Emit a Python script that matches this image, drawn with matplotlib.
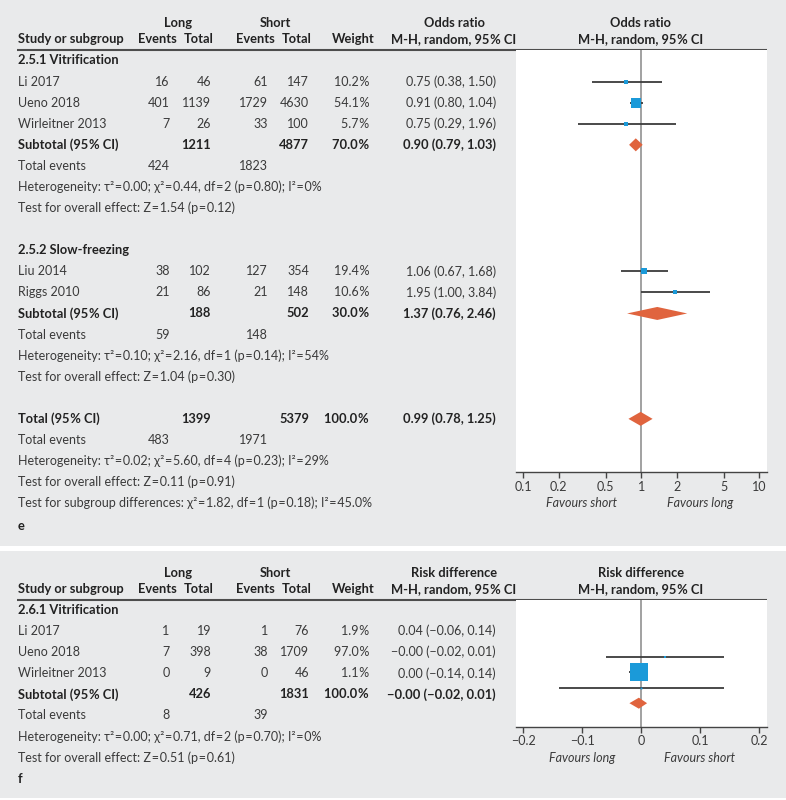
import matplotlib
matplotlib.use("Agg")
import matplotlib.pyplot as plt
from matplotlib.patches import Rectangle

plt.rcParams["font.family"] = ["Lato", "DejaVu Sans"]
plt.rcParams["font.size"] = 9
BOLD_SIZE = 9.3

# ---- panel e data (odds ratio) ----
e_groups = ["2.5.1 Vitrification", "2.5.2 Slow-freezing"]
e_studies = [["Li 2017", "Ueno 2018", "Wirleitner 2013"], ["Liu 2014", "Riggs 2010"]]
e_long_ev = [[16, 401, 7], [38, 21]]
e_long_tot = [[46, 1139, 26], [102, 86]]
e_short_ev = [[61, 1729, 33], [127, 21]]
e_short_tot = [[147, 4630, 100], [354, 148]]
e_weight = [[10.2, 54.1, 5.7], [19.4, 10.6]]
e_or = [[0.75, 0.91, 0.75], [1.06, 1.95]]
e_lo = [[0.38, 0.80, 0.29], [0.67, 1.00]]
e_hi = [[1.50, 1.04, 1.96], [1.68, 3.84]]
e_sub_tot = [(1211, 4877, 70.0), (188, 502, 30.0)]
e_sub_or = [(0.90, 0.79, 1.03), (1.37, 0.76, 2.46)]
e_sub_events = [(424, 1823), (59, 148)]
e_het = ["Heterogeneity: τ² = 0.00; χ² = 0.44, df = 2 (p = 0.80); I² = 0%",
         "Heterogeneity: τ² = 0.10; χ² = 2.16, df = 1 (p = 0.14); I² = 54%"]
e_test = ["Test for overall effect: Z = 1.54 (p = 0.12)",
          "Test for overall effect: Z = 1.04 (p = 0.30)"]
e_total = (1399, 5379, 100.0)
e_total_or = (0.99, 0.78, 1.25)
e_total_events = (483, 1971)
e_total_notes = ["Heterogeneity: τ² = 0.02; χ² = 5.60, df = 4 (p = 0.23); I² = 29%",
                 "Test for overall effect: Z = 0.11 (p = 0.91)",
                 "Test for subgroup differences: χ² = 1.82, df = 1 (p = 0.18); I² = 45.0%"]
e_ticks = [0.1, 0.2, 0.5, 1, 2, 5, 10]
e_ticklabels = ["0.1", "0.2", "0.5", "1", "2", "5", "10"]

# ---- panel f data (risk difference) ----
f_group = "2.6.1 Vitrification"
f_studies = ["Li 2017", "Ueno 2018", "Wirleitner 2013"]
f_long_ev = [1, 7, 0]
f_long_tot = [19, 398, 9]
f_short_ev = [1, 38, 0]
f_short_tot = [76, 1709, 46]
f_weight = [1.9, 97.0, 1.1]
f_rd = [0.04, -0.004, 0.00]
f_lo = [-0.06, -0.02, -0.14]
f_hi = [0.14, 0.01, 0.14]
f_sub_tot = (426, 1831, 100.0)
f_sub_rd = (-0.004, -0.02, 0.01)
f_sub_events = (8, 39)
f_het = "Heterogeneity: τ² = 0.00; χ² = 0.71, df = 2 (p = 0.70); I² = 0%"
f_test = "Test for overall effect: Z = 0.51 (p = 0.61)"
f_ticks = [-0.2, -0.1, 0, 0.1, 0.2]
f_ticklabels = ["−0.2", "−0.1", "0", "0.1", "0.2"]

BG = "#e9eaeb"
TXT = "#3a3a3a"
DARK = "#222222"
BLUE = "#1b9ad9"
ORANGE = "#e0643e"
LINE = "#3c3c3c"
HAIR = "\u200a"

W, H = 786, 800
fig = plt.figure(figsize=(W / 100, H / 100), dpi=100)
bg = fig.add_axes([0, 0, 1, 1])
bg.set_xlim(0, W)
bg.set_ylim(H, 0)
bg.axis("off")
bg.add_patch(Rectangle((0, 0), W, 546, color=BG, lw=0))
bg.add_patch(Rectangle((0, 551), W, 247, color=BG, lw=0))

# column x positions (right aligned numbers)
X_LE, X_LT, X_SE, X_ST, X_W, X_CI = 169.5, 211, 268, 309, 369, 496
X0 = 17.5
PX0, PX1 = 515.7, 766.7


def btext(x, y, s, **kw):
    bg.text(x, y, s, va="center", weight="bold", color=DARK, fontsize=BOLD_SIZE, **kw)


def ntext(x, y, s, **kw):
    bg.text(x, y, s, va="center", color=TXT, **kw)


def pct(v):
    return f"{v:.1f}{HAIR}%"


def ci_txt(v, fmt="{:.2f}"):
    s = f"{fmt.format(v[0])} ({fmt.format(v[1])}, {fmt.format(v[2])})"
    return s.replace("-", "−")


def header(y0, title):
    btext(177.7, y0, "Long", ha="center")
    btext(275.3, y0, "Short", ha="center")
    y1 = y0 + 16
    btext(X0, y1, "Study or subgroup", ha="left")
    for x, s in [(157, "Events"), (198.3, "Total"), (255.3, "Events"), (296.5, "Total"),
                 (353.5, "Weight")]:
        btext(x, y1, s, ha="center")
    for x in (454, 641):
        btext(x, y0, title, ha="center")
        btext(x, y1, f"M-H, random, 95{HAIR}% CI", ha="center")
    bg.plot([X0 - 1, PX1], [y1 + 11, y1 + 11], color="#4d4d4d", lw=1.5,
            solid_capstyle="butt")


def study_row(y, name, le, lt, se, st, w, est):
    ntext(X0, y, name, ha="left")
    for x, v in [(X_LE, le), (X_LT, lt), (X_SE, se), (X_ST, st)]:
        ntext(x, y, str(v), ha="right")
    ntext(X_W, y, pct(w), ha="right")
    ntext(X_CI, y, ci_txt(est), ha="right")


def sub_row(y, label, tots, est):
    btext(X0, y, label, ha="left")
    btext(X_LT, y, str(tots[0]), ha="right")
    btext(X_ST, y, str(tots[1]), ha="right")
    btext(X_W, y, pct(tots[2]), ha="right")
    btext(X_CI, y, ci_txt(est), ha="right")


def events_row(y, ev):
    ntext(X0, y, "Total events", ha="left")
    ntext(X_LE, y, str(ev[0]), ha="right")
    ntext(X_SE, y, str(ev[1]), ha="right")


def note(y, s):
    ntext(X0, y, s.replace(" = ", f"{HAIR}={HAIR}"), ha="left")


def forest_axes(ytop, ybot):
    ax = fig.add_axes([PX0 / W, 1 - ybot / H, (PX1 - PX0) / W, (ybot - ytop) / H])
    ax.set_facecolor("white")
    ax.set_ylim(ybot, ytop)
    for s in ("top", "left", "right"):
        ax.spines[s].set_visible(False)
    ax.spines["bottom"].set_color("#444444")
    ax.spines["bottom"].set_linewidth(1.0)
    ax.set_yticks([])
    ax.tick_params(axis="x", direction="out", length=4, width=1, color="#444444",
                   labelsize=9, labelcolor=TXT, pad=2)
    ax.tick_params(axis="x", which="minor", length=0)
    return ax


def diamond(ax, y, est, half):
    ax.fill([est[1], est[0], est[2], est[0]], [y, y - half, y, y + half],
            color=ORANGE, lw=0, zorder=4)


def box(ax, y, v, lo, hi, side_px):
    ax.plot([lo, hi], [y, y], color=LINE, lw=1.3, zorder=3, solid_capstyle="butt")
    ax.plot([v], [y], marker="s", ms=side_px * 0.72, color=BLUE, mec=BLUE, mew=0,
            zorder=4)


# ---------------- panel e ----------------
header(23.3, "Odds ratio")
STEP = 21.08


def row_e(i):
    return 60.5 + STEP * i


axe = forest_axes(50, 472.3)
axe.set_xscale("log")
axe.set_xlim(0.0862, 11.62)
axe.set_xticks(e_ticks)
axe.set_xticklabels(e_ticklabels)
axe.axvline(1, color="#9a9a9a", lw=1.3, zorder=2)

i = 0
for g in range(2):
    btext(X0, row_e(i), e_groups[g], ha="left")
    i += 1
    for k, name in enumerate(e_studies[g]):
        y = row_e(i)
        study_row(y, name, e_long_ev[g][k], e_long_tot[g][k], e_short_ev[g][k],
                  e_short_tot[g][k], e_weight[g][k],
                  (e_or[g][k], e_lo[g][k], e_hi[g][k]))
        box(axe, y, e_or[g][k], e_lo[g][k], e_hi[g][k], 1.45 * e_weight[g][k] ** 0.5)
        i += 1
    y = row_e(i)
    sub_row(y, f"Subtotal (95{HAIR}% CI)", e_sub_tot[g], e_sub_or[g])
    diamond(axe, y, e_sub_or[g], 6.5)
    i += 1
    events_row(row_e(i), e_sub_events[g])
    i += 1
    note(row_e(i), e_het[g])
    i += 1
    note(row_e(i), e_test[g])
    i += 2

y = row_e(i)
sub_row(y, f"Total (95{HAIR}% CI)", e_total, e_total_or)
diamond(axe, y, e_total_or, 7)
events_row(row_e(i + 1), e_total_events)
for k, s in enumerate(e_total_notes):
    note(row_e(i + 2 + k), s)
btext(X0, 526, "e", ha="left")
ntext(581.7, 503.3, "Favours short", ha="center", style="italic")
ntext(700, 503.3, "Favours long", ha="center", style="italic")

# ---------------- panel f ----------------
header(572.7, "Risk difference")


def row_f(i):
    return 610 + STEP * i


axf = forest_axes(600, 726.7)
axf.set_xlim(-0.2129, 0.2129)
axf.set_xticks(f_ticks)
axf.set_xticklabels(f_ticklabels)
axf.axvline(0, color="#9a9a9a", lw=1.3, zorder=2)

btext(X0, row_f(0), f_group, ha="left")
for k, name in enumerate(f_studies):
    study_row(row_f(k + 1), name, f_long_ev[k], f_long_tot[k], f_short_ev[k],
              f_short_tot[k], f_weight[k], (f_rd[k], f_lo[k], f_hi[k]))
    # marks sit a little lower than their text rows, as in the source figure
    box(axf, 657 + 15.4 * k, f_rd[k], f_lo[k], f_hi[k], 1.76 * f_weight[k] ** 0.5)
sub_row(row_f(4), f"Subtotal (95{HAIR}% CI)", f_sub_tot, f_sub_rd)
diamond(axf, 657 + 15.4 * 3, f_sub_rd, 5.5)
events_row(row_f(5), f_sub_events)
note(row_f(6), f_het)
note(row_f(7), f_test)
btext(X0, row_f(8), "f", ha="left")
ntext(581.7, 757.7, "Favours long", ha="center", style="italic")
ntext(700, 757.7, "Favours short", ha="center", style="italic")

fig.savefig("out.png", dpi=100)
plt.close(fig)
